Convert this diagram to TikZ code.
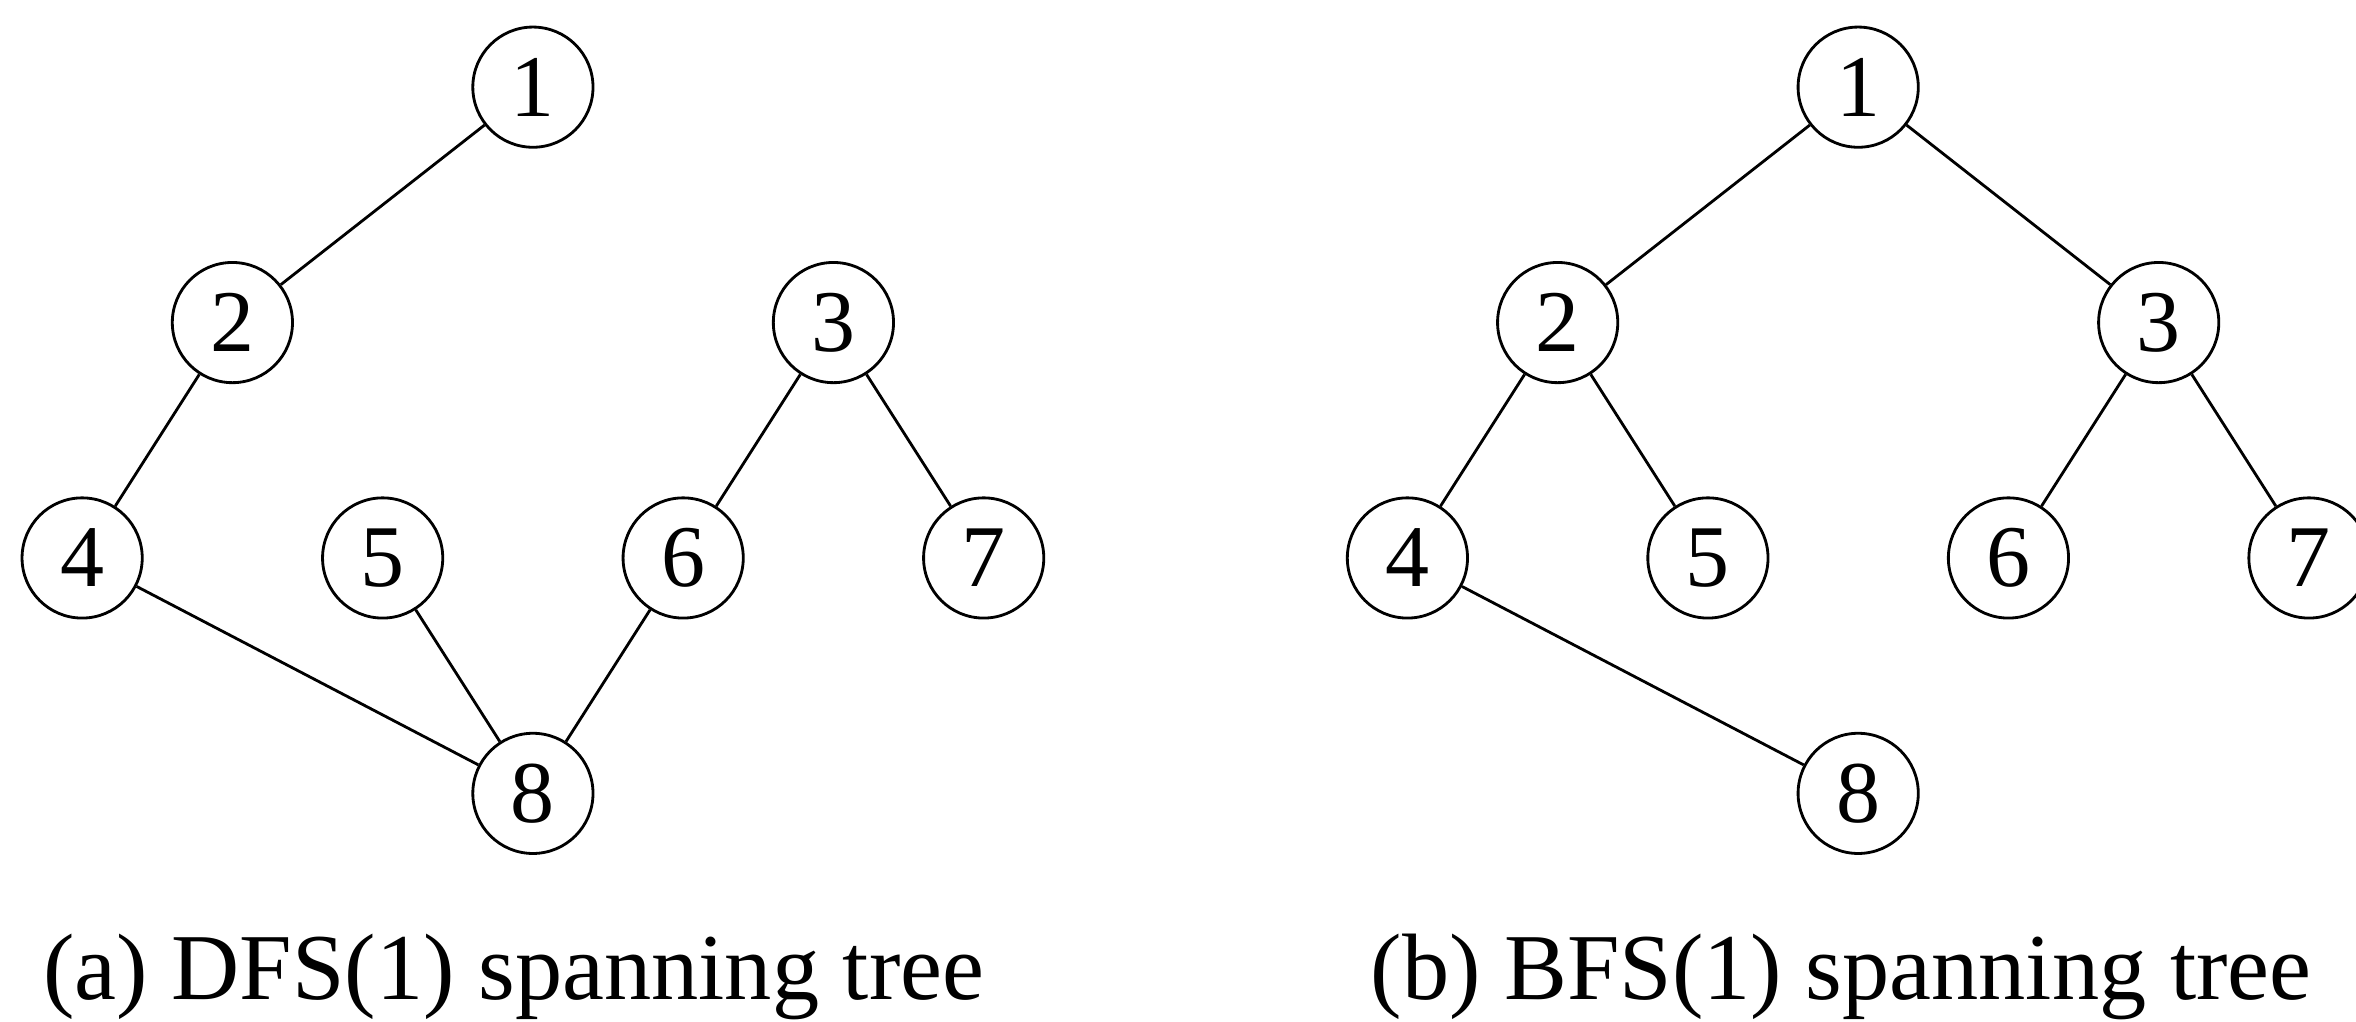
\documentclass[tikz,border=0pt]{standalone}
\usepackage{fontspec}
\setmainfont{Liberation Serif}
\usetikzlibrary{positioning}

\begin{document}
\begin{tikzpicture}[
            vertex/.style={
                    draw,
                    circle,
                    thin,
                    minimum size=0.6cm,
                    inner sep=0pt,
                    font=\fontsize{12.5}{15}\selectfont
                },
            edge/.style={
                    thin
                },
            caption/.style={
                    anchor=base,
                    font=\fontsize{13.4}{16}\selectfont
                },
            on grid,
            node distance=1.175cm and 1.5cm
        ]
        \useasboundingbox (0,0) rectangle (11.76,5.1);

        % (a) DFS tree
        \node[vertex] (a1) at (2.66,4.665) {1};
        \node[vertex,below left=1.175cm and 1.5cm of a1] (a2) {2};
        \node[vertex,below right=1.175cm and 1.5cm of a1] (a3) {3};
        \node[vertex,below left=1.175cm and 0.75cm of a2] (a4) {4};
        \node[vertex,below right=1.175cm and 0.75cm of a2] (a5) {5};
        \node[vertex,below left=1.175cm and 0.75cm of a3] (a6) {6};
        \node[vertex,below right=1.175cm and 0.75cm of a3] (a7) {7};
        \node[vertex,below=3.525cm of a1] (a8) {8};

        \foreach \u/\v in {1/2, 2/4, 3/6, 3/7, 4/8, 5/8, 6/8}
            \draw[edge] (a\u) -- (a\v);

        \node[caption] (capa) at (2.565,0.11) {(a) DFS(1) spanning tree};

        % (b) BFS tree
        \node[vertex] (b1) at (9.275,4.665) {1};
        \node[vertex,below left=1.175cm and 1.5cm of b1] (b2) {2};
        \node[vertex,below right=1.175cm and 1.5cm of b1] (b3) {3};
        \node[vertex,below left=1.175cm and 0.75cm of b2] (b4) {4};
        \node[vertex,below right=1.175cm and 0.75cm of b2] (b5) {5};
        \node[vertex,below left=1.175cm and 0.75cm of b3] (b6) {6};
        \node[vertex,below right=1.175cm and 0.75cm of b3] (b7) {7};
        \node[vertex,below=3.525cm of b1] (b8) {8};

        \foreach \u/\v in {1/2, 1/3, 2/4, 2/5, 3/6, 3/7, 4/8}
            \draw[edge] (b\u) -- (b\v);

        \node[caption] (capb) at (9.19,0.11) {(b) BFS(1) spanning tree};

    \end{tikzpicture}
\end{document}
